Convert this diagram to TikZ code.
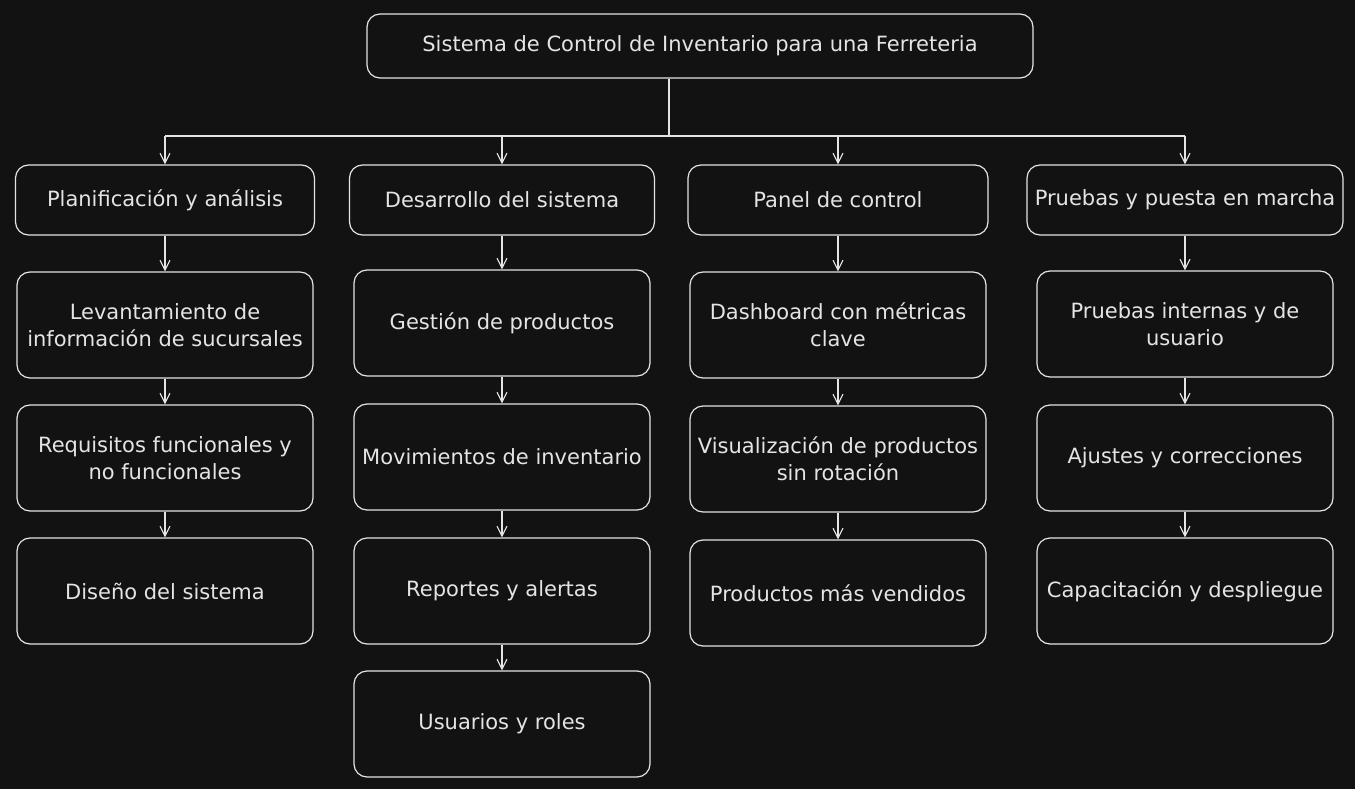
\documentclass[tikz,border=0pt]{standalone}
\usepackage{fontspec}
\setmainfont{DejaVu Sans}
\usetikzlibrary{arrows.meta}
\definecolor{fondo}{HTML}{121212}
\definecolor{trazo}{HTML}{E4E4E4}

\begin{document}
\begin{tikzpicture}[x=1pt, y=-1pt,
    caja/.style={draw=trazo, line width=1.2pt, rounded corners=13pt, fill=fondo,
        text=trazo, align=center, inner sep=0pt, minimum width=296pt, minimum height=106pt,
        font=\fontsize{21}{27}\selectfont},
    flecha/.style={draw=trazo, line width=1.1pt, -{Straight Barb[length=10pt,width=10pt]}},
    linea/.style={draw=trazo, line width=1.1pt}]

    % fondo oscuro
    \fill[fondo] (0,0) rectangle (1355,789);

    % raíz
    \node[caja, minimum width=666pt, minimum height=64pt] (raiz) at (700,46)
        {Sistema de Control de Inventario para una Ferreteria};

    % fases
    \node[caja, minimum width=299pt, minimum height=70pt] (A1) at (165,200) {Planificación y análisis};
    \node[caja, minimum width=305pt, minimum height=70pt] (B1) at (502,200) {Desarrollo del sistema};
    \node[caja, minimum width=300pt, minimum height=70pt] (C1) at (838,200) {Panel de control};
    \node[caja, minimum width=316pt, minimum height=70pt] (D1) at (1185,200) {Pruebas y puesta en marcha};

    % tareas
    \node[caja] (A2) at (165,325) {Levantamiento de\\información de sucursales};
    \node[caja] (A3) at (165,458) {Requisitos funcionales y\\no funcionales};
    \node[caja] (A4) at (165,591) {Diseño del sistema};

    \node[caja] (B2) at (502,323) {Gestión de productos};
    \node[caja] (B3) at (502,457) {Movimientos de inventario};
    \node[caja] (B4) at (502,591) {Reportes y alertas};
    \node[caja] (B5) at (502,724) {Usuarios y roles};

    \node[caja] (C2) at (838,325) {Dashboard con métricas\\clave};
    \node[caja] (C3) at (838,459) {Visualización de productos\\sin rotación};
    \node[caja] (C4) at (838,593) {Productos más vendidos};

    \node[caja] (D2) at (1185,324) {Pruebas internas y de\\usuario};
    \node[caja] (D3) at (1185,458) {Ajustes y correcciones};
    \node[caja] (D4) at (1185,591) {Capacitación y despliegue};

    % barra de reparto
    \coordinate (bus) at (669,136);
    \draw[linea] (bus |- raiz.south) -- (bus);
    \draw[linea] (A1.north |- bus) -- (D1.north |- bus);
    \foreach \n in {A1,B1,C1,D1}
        \draw[flecha] (\n.north |- bus) -- (\n.north);

    % flechas por columna
    \foreach \a/\b in {A1/A2,A2/A3,A3/A4,B1/B2,B2/B3,B3/B4,B4/B5,C1/C2,C2/C3,C3/C4,D1/D2,D2/D3,D3/D4}
        \draw[flecha] (\a.south) -- (\b.north);
\end{tikzpicture}
\end{document}
